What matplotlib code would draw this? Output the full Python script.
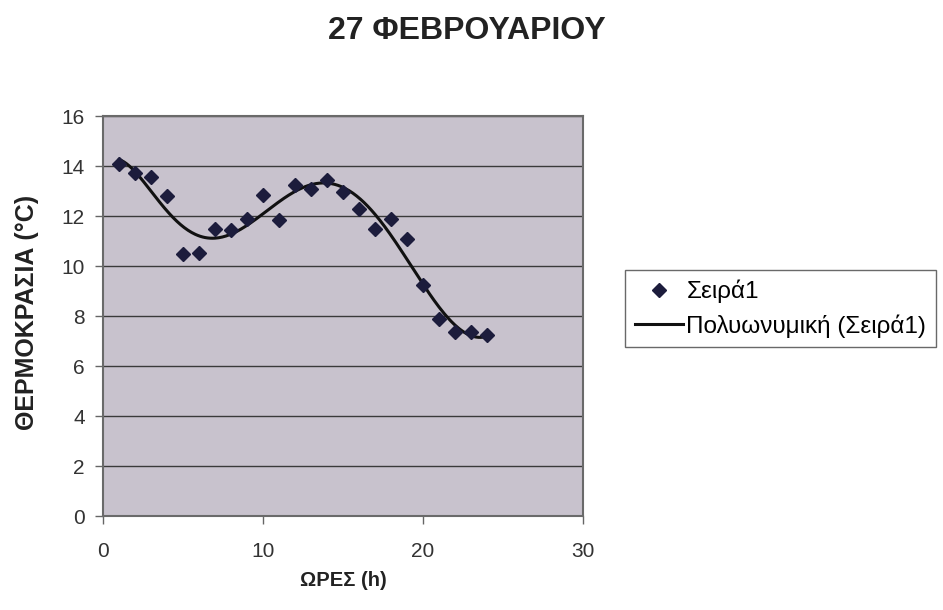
import numpy as np
import matplotlib.pyplot as plt

plt.rcParams['font.family'] = ['Liberation Sans', 'DejaVu Sans']

# hourly temperatures
hours = np.arange(1, 25)
temps = [14.1, 13.73, 13.55, 12.8, 10.47, 10.53, 11.5, 11.44, 11.9, 12.84,
         11.84, 13.24, 13.1, 13.44, 12.97, 12.3, 11.5, 11.87, 11.09, 9.24,
         7.9, 7.37, 7.37, 7.24]
trend_order = 6

title = "27 ΦΕΒΡΟΥΑΡΙΟΥ"
xlabel = "ΩΡΕΣ (h)"
ylabel = "ΘΕΡΜΟΚΡΑΣΙΑ (°C)"
series_name = "Σειρά1"
trend_name = "Πολυωνυμική (Σειρά1)"

fig = plt.figure(figsize=(9.43, 6.10), dpi=100)
ax = fig.add_axes([103/943, 1 - 516/610, 480/943, 400/610])
ax.set_facecolor("#c8c2cd")

# Excel style polynomial trendline
coef = np.polyfit(hours, temps, trend_order)
xs = np.linspace(hours[0], hours[-1], 300)
ax.plot(xs, np.polyval(coef, xs), color="#111111", lw=2.2, label=trend_name, zorder=3)
ax.plot(hours, temps, "D", color="#1c1c3c", ms=7, ls="none", label=series_name, zorder=4)

ax.set_xlim(0, 30)
ax.set_ylim(0, 16)
ax.set_xticks([0, 10, 20, 30])
ax.set_yticks(np.arange(0, 17, 2))
ax.yaxis.grid(True, color="#3a3a3a", lw=1.0)
ax.set_axisbelow(True)
for s in ax.spines.values():
    s.set_color("#6a6a6a")
    s.set_linewidth(1.5)
ax.tick_params(direction="out", length=6, width=1, color="#666666",
               labelsize=15, labelcolor="#333333")
ax.tick_params(axis="x", pad=13)
ax.tick_params(axis="y", pad=7)

ax.set_xlabel(xlabel, fontsize=14.5, fontweight="bold", color="#222222", va="center")
ax.xaxis.set_label_coords(0.5, -(580 - 516) / 400)
ax.set_ylabel(ylabel, fontsize=18, fontweight="bold", color="#222222", va="center")
ax.yaxis.set_label_coords(-(103 - 27) / 480, 0.51)
fig.text(467/943, 1 - 31/610, title, ha="center", va="center",
         fontsize=23, fontweight="bold", color="#222222")

# legend sits to the right of the plot, as in the Excel original
h, l = ax.get_legend_handles_labels()
leg = fig.legend(h[::-1], l[::-1], loc="upper left",
                 bbox_to_anchor=(625/943, 1 - 270/610), fontsize=17.5,
                 frameon=True, fancybox=False, edgecolor="#444444",
                 handlelength=2.0, handletextpad=0.12, borderpad=0.4,
                 labelspacing=0.45, borderaxespad=0)
leg.get_frame().set_linewidth(1.0)

fig.savefig("out.png", dpi=100)
